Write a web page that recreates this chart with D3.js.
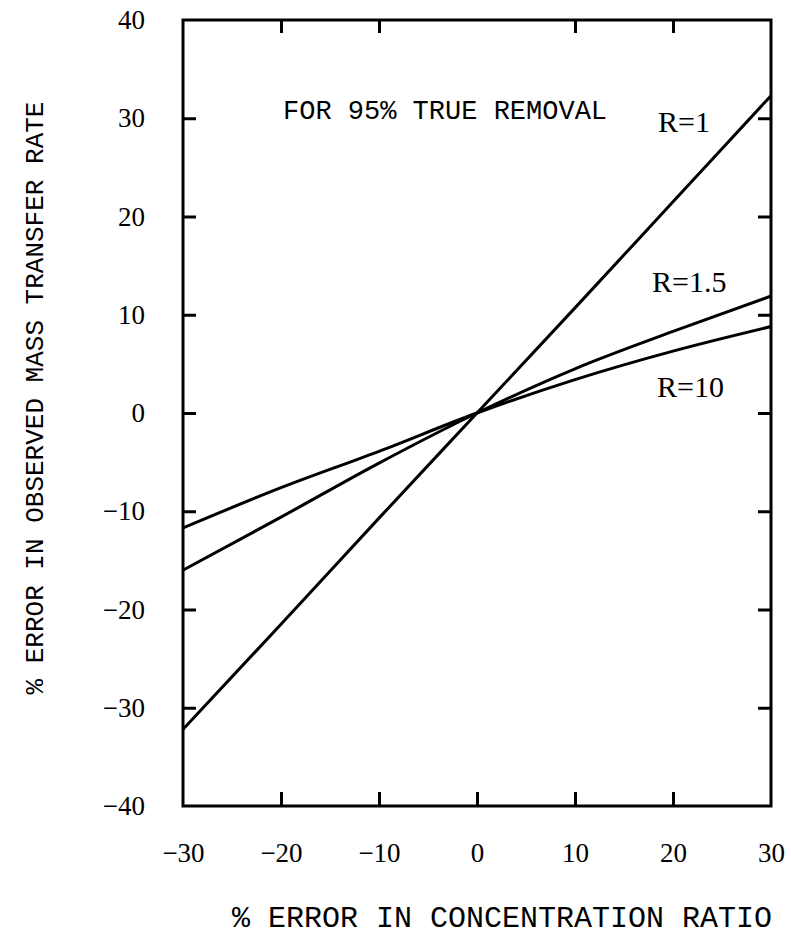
<!DOCTYPE html>
<html>
<head>
<meta charset="utf-8">
<script src="https://cdn.jsdelivr.net/npm/d3@7"></script>
<style>
  body { margin: 0; background: #fff; }
  svg { display: block; }
</style>
</head>
<body>
<div id="chart"></div>
<script>
// data
var xVals = [-30, -20, -10, 0, 10, 20, 30];
var r1 = [-32.2, -21.5, -10.7, 0, 10.7, 21.5, 32.3];
var r15 = [-16.0, -10.6, -5.1, 0, 4.5, 8.3, 11.9];
var r10 = [-11.7, -7.6, -3.9, 0, 3.4, 6.3, 8.8];
var xTicks = [-30, -20, -10, 0, 10, 20, 30];
var yTicks = [-40, -30, -20, -10, 0, 10, 20, 30, 40];
var topTicks = [-20, -10, 10, 20];

function draw_chart() {
  var W = 791, H = 941;
  var m = {left: 183, right: 771, top: 20, bottom: 806};

  var xScale = d3.scaleLinear().domain([-30, 30]).range([m.left, m.right]);
  var yScale = d3.scaleLinear().domain([-40, 40]).range([m.bottom, m.top]);

  var svg = d3.select("#chart").append("svg")
    .attr("width", W)
    .attr("height", H);

  var fmt = function(d) { return d < 0 ? "\u2212" + Math.abs(d) : String(d); };

  // left axis, ticks point inward
  svg.append("g")
    .attr("class", "yaxis")
    .attr("transform", "translate(" + m.left + ",0)")
    .call(d3.axisLeft(yScale).tickValues(yTicks).tickSize(-13).tickPadding(38).tickFormat(fmt));

  // no tick marks in the corners
  svg.select(".yaxis").selectAll(".tick line")
    .filter(function(d) { return d === -40 || d === 40; })
    .remove();

  // right side ticks
  svg.append("g")
    .attr("class", "raxis")
    .attr("transform", "translate(" + m.right + ",0)")
    .call(d3.axisRight(yScale).tickValues(yTicks.slice(1, -1)).tickSize(-13).tickFormat(""));

  // bottom axis
  svg.append("g")
    .attr("class", "xaxis")
    .attr("transform", "translate(0," + m.bottom + ")")
    .call(d3.axisBottom(xScale).tickValues(xTicks).tickSize(-14).tickPadding(37).tickFormat(fmt));

  svg.select(".xaxis").selectAll(".tick line")
    .filter(function(d) { return d === -30 || d === 30; })
    .remove();

  // top ticks
  svg.append("g")
    .attr("class", "taxis")
    .attr("transform", "translate(0," + m.top + ")")
    .call(d3.axisTop(xScale).tickValues(topTicks).tickSize(-13).tickFormat(""));

  svg.selectAll("path.domain").remove();

  svg.selectAll(".tick line")
    .style("stroke", "#000")
    .style("stroke-width", "3px");

  svg.selectAll(".yaxis text, .xaxis text")
    .style("fill", "#000")
    .style("font-family", "'Liberation Serif', serif")
    .style("font-size", "27px");

  // frame
  svg.append("rect")
    .attr("x", m.left)
    .attr("y", m.top)
    .attr("width", m.right - m.left)
    .attr("height", m.bottom - m.top)
    .attr("fill", "none")
    .attr("stroke", "#000")
    .attr("stroke-width", 3);

  // curves
  var line = d3.line()
    .x(function(d, i) { return xScale(xVals[i]); })
    .y(function(d) { return yScale(d); })
    .curve(d3.curveMonotoneX);

  [r1, r15, r10].forEach(function(s, i) {
    svg.append("path")
      .datum(s)
      .attr("class", "line" + i)
      .attr("d", line)
      .attr("fill", "none")
      .attr("stroke", "#000")
      .attr("stroke-width", 3);
  });

  // annotations
  svg.append("text")
    .attr("x", 283)
    .attr("y", 119)
    .style("font-family", "'Liberation Mono', monospace")
    .style("font-size", "27px")
    .text("FOR 95% TRUE REMOVAL");

  var rLabels = [
    {t: "R=1", x: 658, y: 132},
    {t: "R=1.5", x: 652, y: 292},
    {t: "R=10", x: 657, y: 397}
  ];
  svg.selectAll("text.rlab")
    .data(rLabels)
    .enter().append("text")
    .attr("class", "rlab")
    .attr("x", function(d) { return d.x; })
    .attr("y", function(d) { return d.y; })
    .style("font-family", "'Liberation Serif', serif")
    .style("font-size", "30px")
    .text(function(d) { return d.t; });

  // axis titles
  svg.append("text")
    .attr("text-anchor", "middle")
    .attr("x", 502)
    .attr("y", 927)
    .style("font-family", "'Liberation Mono', monospace")
    .style("font-size", "30px")
    .text("% ERROR IN CONCENTRATION RATIO");

  svg.append("text")
    .attr("text-anchor", "middle")
    .attr("transform", "translate(43,398) rotate(-90)")
    .style("font-family", "'Liberation Mono', monospace")
    .style("font-size", "26px")
    .text("% ERROR IN OBSERVED MASS TRANSFER RATE");
}

draw_chart();
</script>
</body>
</html>
